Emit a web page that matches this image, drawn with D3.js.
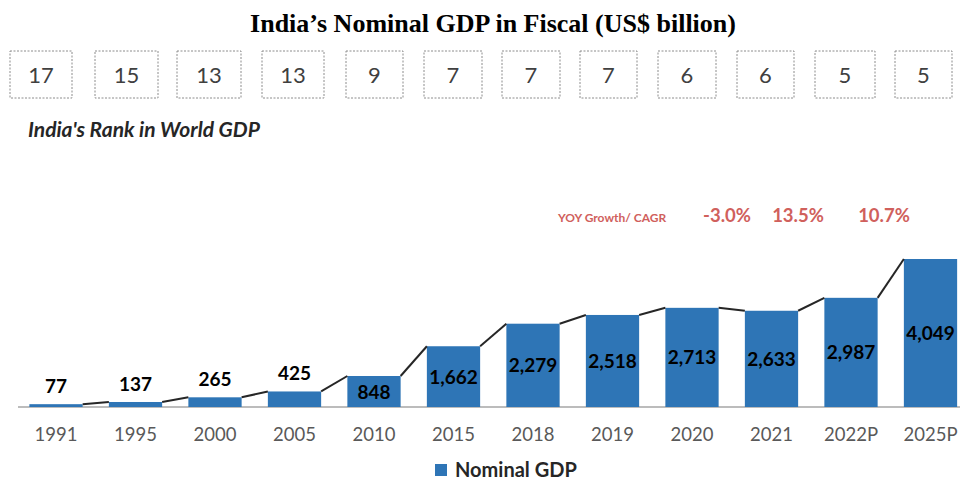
<!DOCTYPE html>
<html><head><meta charset="utf-8">
<script src="https://cdn.jsdelivr.net/npm/d3@7/dist/d3.min.js"></script>
<style>body{margin:0;background:#fff}svg{display:block}</style>
</head><body><svg id="c" width="961" height="484"></svg>
<script>
const categories = ["1991","1995","2000","2005","2010","2015","2018","2019","2020","2021","2022P","2025P"];
const gdpValues = [77,137,265,425,848,1662,2279,2518,2713,2633,2987,4049];
const ranks = [17,15,13,13,9,7,7,7,6,6,5,5];
const growthLabels = ["-3.0%","13.5%","10.7%"];

const svg = d3.select("#c");
const base = 407;
const x = d3.scaleBand().domain(categories).range([16.25, 970.25]).paddingInner(0.33).paddingOuter(0.165);
const y = d3.scaleLinear().domain([0, 4049]).range([base, 259]);
const fontS = "Lato, 'Open Sans', sans-serif";
const blue = "#2e75b6";

// title
svg.append("text").attr("x", 493).attr("y", 32).attr("text-anchor","middle")
  .attr("font-family","'Liberation Serif', serif").attr("font-weight","bold").attr("font-size",26)
  .attr("fill","#000").text("India’s Nominal GDP in Fiscal (US$ billion)");

// rank boxes (layout of the decorative boxes: left edge, right edge)
const boxLayout = [[10,72],[95,158],[177,241],[262,324],[346,403],[424,482],[502,560],[580,637],[658,716],[737,794],[815,875],[895,952]];
const boxes = svg.append("g").selectAll("g").data(ranks).join("g")
  .attr("transform",(d,i)=>`translate(${boxLayout[i][0]},0)`);
boxes.append("rect").attr("x",0).attr("y",51).attr("width",(d,i)=>boxLayout[i][1]-boxLayout[i][0]).attr("height",47)
  .attr("fill","none").attr("stroke","#8c8c8c").attr("stroke-width",1).attr("stroke-dasharray","2,1.5");
boxes.append("text").attr("x",(d,i)=>(boxLayout[i][1]-boxLayout[i][0])/2).attr("y",83).attr("text-anchor","middle").attr("font-family",fontS)
  .attr("font-size",22).attr("fill","#404040").text(d=>d);

svg.append("text").attr("x",28).attr("y",137).attr("font-family",fontS).attr("font-weight","bold")
  .attr("font-style","italic").attr("font-size",21).attr("fill","#262626").text("India's Rank in World GDP");

// growth labels
svg.append("text").attr("x",558).attr("y",222).attr("font-family",fontS).attr("font-weight","bold")
  .attr("font-size",12).attr("fill","#d0605c").text("YOY Growth/ CAGR");
svg.append("g").selectAll("text").data(growthLabels).join("text")
  .attr("x",(d,i)=>[727,798,884][i]).attr("y",222).attr("text-anchor","middle")
  .attr("font-family",fontS).attr("font-weight","bold").attr("font-size",18.5).attr("fill","#d0605c").text(d=>d);

// axis line
svg.append("line").attr("x1",18).attr("x2",960).attr("y1",base).attr("y2",base)
  .attr("stroke","#a6a6a6").attr("stroke-width",1.5);

// bars
svg.append("g").selectAll("rect").data(gdpValues).join("rect")
  .attr("x",(d,i)=>x(categories[i])).attr("width",x.bandwidth())
  .attr("y",d=>y(d)).attr("height",d=>base - y(d)).attr("fill",blue);

// connectors
const conn = [];
for (let i=0;i<gdpValues.length-1;i++){
  conn.push([x(categories[i])+x.bandwidth(), y(gdpValues[i]), x(categories[i+1]), y(gdpValues[i+1])]);
}
svg.append("g").selectAll("line").data(conn).join("line")
  .attr("x1",d=>d[0]).attr("y1",d=>d[1]).attr("x2",d=>d[2]).attr("y2",d=>d[3])
  .attr("stroke","#262626").attr("stroke-width",2);

// value labels
const fmt = d3.format(",");
svg.append("g").selectAll("text").data(gdpValues).join("text")
  .attr("x",(d,i)=>x(categories[i])+x.bandwidth()/2)
  .attr("y",(d,i)=> i<4 ? y(d)-11 : (y(d)+base)/2 + 7)
  .attr("text-anchor","middle").attr("font-family",fontS).attr("font-weight","bold")
  .attr("font-size",19).attr("fill","#000").text(d=>fmt(d));

// x axis labels
svg.append("g").selectAll("text").data(categories).join("text")
  .attr("x",d=>x(d)+x.bandwidth()/2).attr("y",441).attr("text-anchor","middle")
  .attr("font-family",fontS).attr("font-size",18.5).attr("fill","#595959").text(d=>d);

// legend
svg.append("rect").attr("x",435).attr("y",464).attr("width",12).attr("height",12).attr("fill",blue);
svg.append("text").attr("x",455).attr("y",477).attr("font-family",fontS).attr("font-weight","bold")
  .attr("font-size",20).attr("fill","#262626").text("Nominal GDP");
</script></body></html>
